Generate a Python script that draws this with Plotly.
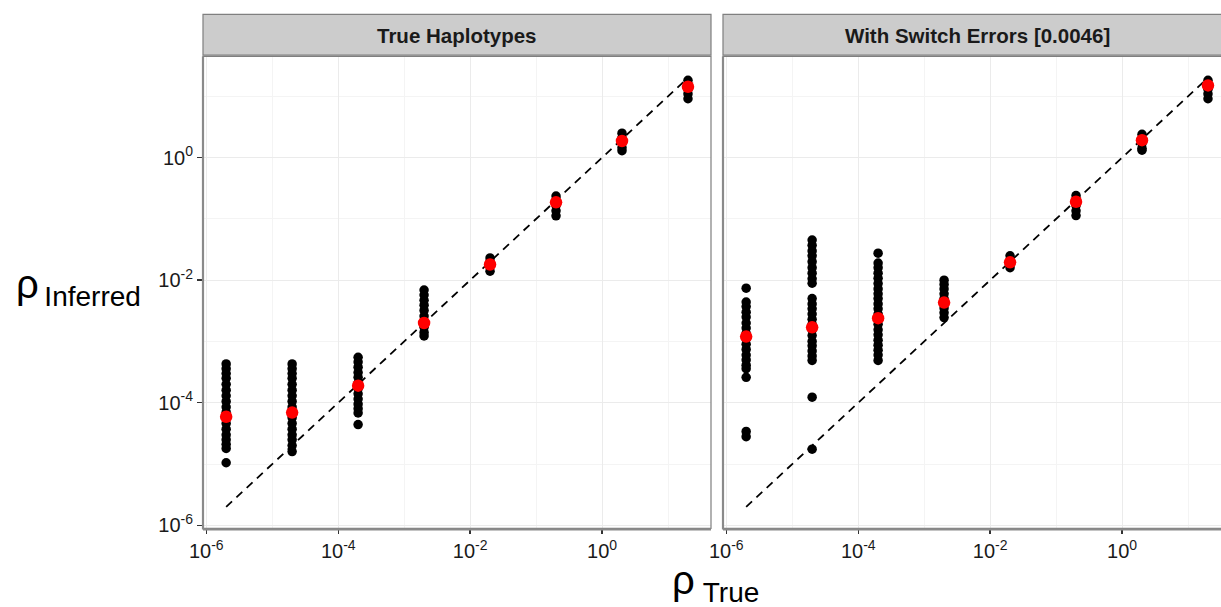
import plotly.graph_objects as go

# ---------------- data ----------------
true_rho = [2e-6, 2e-5, 2e-4, 2e-3, 2e-2, 2e-1, 2, 20]

panel_titles = ["True Haplotypes", "With Switch Errors [0.0046]"]

# Panel 1: True Haplotypes - inferred rho per replicate, one list per true rho
true_hap_2e6 = [4.3e-4, 3.6e-4, 3.0e-4, 2.5e-4, 2.0e-4, 1.6e-4, 1.3e-4, 1.05e-4, 8.5e-5,
                7e-5, 5.7e-5, 4.6e-5, 3.7e-5, 3.0e-5, 2.5e-5, 2.1e-5, 1.8e-5, 1.05e-5]
true_hap_2e5 = [4.3e-4, 3.6e-4, 3.0e-4, 2.5e-4, 2.0e-4, 1.6e-4, 1.3e-4, 1.05e-4, 8.5e-5,
                7e-5, 5.7e-5, 4.6e-5, 3.7e-5, 3.0e-5, 2.5e-5, 2.0e-5, 1.6e-5]
true_hap_2e4 = [5.5e-4, 4.6e-4, 3.8e-4, 3.1e-4, 2.6e-4, 2.1e-4, 1.7e-4, 1.4e-4, 1.15e-4,
                9.5e-5, 8e-5, 6.8e-5, 4.4e-5]
true_hap_2e3 = [6.9e-3, 5.7e-3, 4.7e-3, 3.9e-3, 3.2e-3, 2.6e-3, 2.1e-3, 1.7e-3, 1.4e-3, 1.23e-3]
true_hap_2e2 = [0.023, 0.020, 0.017, 0.014]
true_hap_2e1 = [0.235, 0.20, 0.165, 0.135, 0.112]
true_hap_2e0 = [2.5, 2.1, 1.75, 1.45, 1.29]
true_hap_20 = [18.2, 15.5, 13.0, 10.9, 9.1]
true_hap_mean = [5.9e-5, 6.9e-5, 1.9e-4, 2.0e-3, 0.018, 0.186, 1.86, 14.3]

# Panel 2: With Switch Errors
switch_2e6 = [7.4e-3, 4.4e-3, 3.7e-3, 3.0e-3, 2.5e-3, 2.0e-3, 1.65e-3, 1.35e-3, 1.1e-3,
              9e-4, 7.4e-4, 6e-4, 5e-4, 4.1e-4, 3.6e-4, 2.6e-4, 3.4e-5, 2.8e-5]
switch_2e5 = [0.045, 0.037, 0.030, 0.025, 0.020, 0.016, 0.013, 0.0105, 0.0089,
              5e-3, 4.1e-3, 3.4e-3, 2.8e-3, 2.3e-3, 1.9e-3, 1.55e-3, 1.25e-3, 1.0e-3,
              8.5e-4, 7e-4, 5.8e-4, 4.9e-4, 1.23e-4, 1.75e-5]
switch_2e4 = [0.0275, 0.019, 0.016, 0.013, 0.0107, 0.0088, 0.0072, 0.006, 0.005, 0.0041,
              0.0034, 0.0028, 0.0023, 0.0019, 0.00155, 0.00128, 0.00105, 8.7e-4, 7.2e-4,
              6e-4, 4.9e-4]
switch_2e3 = [0.0100, 0.0085, 0.0072, 0.006, 0.005, 0.0042, 0.0035, 0.00295, 0.00245]
switch_2e2 = [0.025, 0.021, 0.018, 0.016]
switch_2e1 = [0.24, 0.20, 0.165, 0.135, 0.113]
switch_2e0 = [2.4, 2.0, 1.7, 1.42, 1.32]
switch_20 = [18.2, 15.5, 13.0, 10.9, 9.1]
switch_mean = [1.2e-3, 1.7e-3, 2.4e-3, 4.3e-3, 0.0195, 0.19, 1.92, 15.0]

tick_vals = [1e-6, 1e-4, 1e-2, 1]
tick_text = ["10<sup>-6</sup>", "10<sup>-4</sup>", "10<sup>-2</sup>", "10<sup>0</sup>"]
minor_vals = [1e-5, 1e-3, 1e-1, 10]

true_hap_cols = [true_hap_2e6, true_hap_2e5, true_hap_2e4, true_hap_2e3,
                 true_hap_2e2, true_hap_2e1, true_hap_2e0, true_hap_20]
switch_cols = [switch_2e6, switch_2e5, switch_2e4, switch_2e3,
               switch_2e2, switch_2e1, switch_2e0, switch_20]

# ---------------- figure ----------------
W, H = 1221, 607
FONT = "Liberation Sans, Arial, Helvetica, sans-serif"

fig = go.Figure()

for idx, (cols, means) in enumerate([(true_hap_cols, true_hap_mean), (switch_cols, switch_mean)]):
    xa = "x" if idx == 0 else "x2"
    ya = "y" if idx == 0 else "y2"
    xs, ys = [], []
    for xv, col in zip(true_rho, cols):
        xs += [xv] * len(col)
        ys += col
    # identity line
    fig.add_trace(go.Scatter(x=[true_rho[0], true_rho[-1]], y=[true_rho[0], true_rho[-1]],
                             mode="lines", line=dict(color="black", width=1.8, dash="8px,6px"),
                             xaxis=xa, yaxis=ya, showlegend=False, hoverinfo="skip"))
    fig.add_trace(go.Scatter(x=xs, y=ys, mode="markers",
                             marker=dict(color="black", size=9.5, line=dict(width=0)),
                             xaxis=xa, yaxis=ya, showlegend=False))
    fig.add_trace(go.Scatter(x=true_rho, y=means, mode="markers",
                             marker=dict(color="#ff0000", size=12.5, line=dict(width=0)),
                             xaxis=xa, yaxis=ya, showlegend=False))

# geometry in pixels
L1, R1 = 203, 711
L2, R2 = 723, 1221
TOP, BOT = 56.4, 528.4
STRIP_TOP = 14.3
px_per_dec = (R1 - L1) / 7.7
xr1 = [-6.05, 1.65]
xr2 = [-6.05, -6.05 + (R2 - L2) / px_per_dec]
yr = [-6.05, 1.65]

def fx(p):
    return p / W

def fy(p):
    return 1 - p / H

common_x = dict(type="log", tickvals=tick_vals, ticktext=tick_text, showgrid=True,
                gridcolor="#ebebeb", gridwidth=1, zeroline=False, showline=False,
                ticks="outside", ticklen=5, tickwidth=1.5, tickcolor="#333333",
                tickfont=dict(family=FONT, size=20, color="#1a1a1a"),
                minor=dict(tickvals=minor_vals, showgrid=True, gridcolor="#f4f4f4",
                           gridwidth=1, ticks=""),
                automargin=False, fixedrange=True)

fig.update_layout(
    template="none",
    width=W, height=H,
    autosize=False,
    margin=dict(l=0, r=0, t=0, b=0, pad=0, autoexpand=False),
    paper_bgcolor="white", plot_bgcolor="white",
    xaxis=dict(common_x, domain=[fx(L1), fx(R1)], range=xr1, anchor="y"),
    xaxis2=dict(common_x, domain=[fx(L2), 1.0], range=xr2, anchor="y2"),
    yaxis=dict(common_x, domain=[fy(BOT), fy(TOP)], range=yr, anchor="x"),
    yaxis2=dict(common_x, domain=[fy(BOT), fy(TOP)], range=yr, anchor="x2",
                showticklabels=False, ticks=""),
    showlegend=False,
)

shapes = []
border = "#7f7f7f"
for (l, r) in [(L1, R1), (L2, R2 + 2)]:
    shapes.append(dict(type="rect", xref="paper", yref="paper",
                       x0=fx(l), x1=fx(r), y0=fy(BOT), y1=fy(TOP),
                       line=dict(color=border, width=1.2), fillcolor="rgba(0,0,0,0)", layer="above"))
    shapes.append(dict(type="line", xref="paper", yref="paper",
                       x0=fx(l), x1=fx(l), y0=fy(BOT + 1), y1=fy(TOP),
                       line=dict(color="#8a8a8a", width=2.2), layer="above"))
    shapes.append(dict(type="line", xref="paper", yref="paper",
                       x0=fx(l), x1=fx(r), y0=fy(BOT + 1), y1=fy(BOT + 1),
                       line=dict(color="#8a8a8a", width=2.2), layer="above"))
    shapes.append(dict(type="rect", xref="paper", yref="paper",
                       x0=fx(l), x1=fx(r), y0=fy(TOP - 1.2), y1=fy(STRIP_TOP),
                       line=dict(color=border, width=1.2), fillcolor="#cccccc", layer="above"))
fig.update_layout(shapes=shapes)

annotations = []
strip_centers = [(L1 + R1) / 2, L2 + (R1 - L1) / 2]
for cx, title in zip(strip_centers, panel_titles):
    annotations.append(dict(xref="paper", yref="paper", x=fx(cx), y=fy((STRIP_TOP + TOP) / 2),
                            text="<b>%s</b>" % title, showarrow=False,
                            xanchor="center", yanchor="middle",
                            font=dict(family=FONT, size=20.5, color="#1a1a1a")))
# axis titles
annotations.append(dict(xref="paper", yref="paper", x=fx(715), y=fy(583),
                        text="\u03c1\u2009<sub>True</sub>", showarrow=False,
                        xanchor="center", yanchor="middle",
                        font=dict(family=FONT, size=40, color="black")))
annotations.append(dict(xref="paper", yref="paper", x=fx(79), y=fy(287),
                        text="\u03c1<sub>\u2009Inferred</sub>", showarrow=False,
                        xanchor="center", yanchor="middle",
                        font=dict(family=FONT, size=40, color="black")))
fig.update_layout(annotations=annotations)

fig.write_html("out.html",
               config={"displayModeBar": False, "staticPlot": True},
               post_script="document.body.style.margin='0';document.body.style.padding='0';"
                           "document.body.style.overflow='hidden';")
